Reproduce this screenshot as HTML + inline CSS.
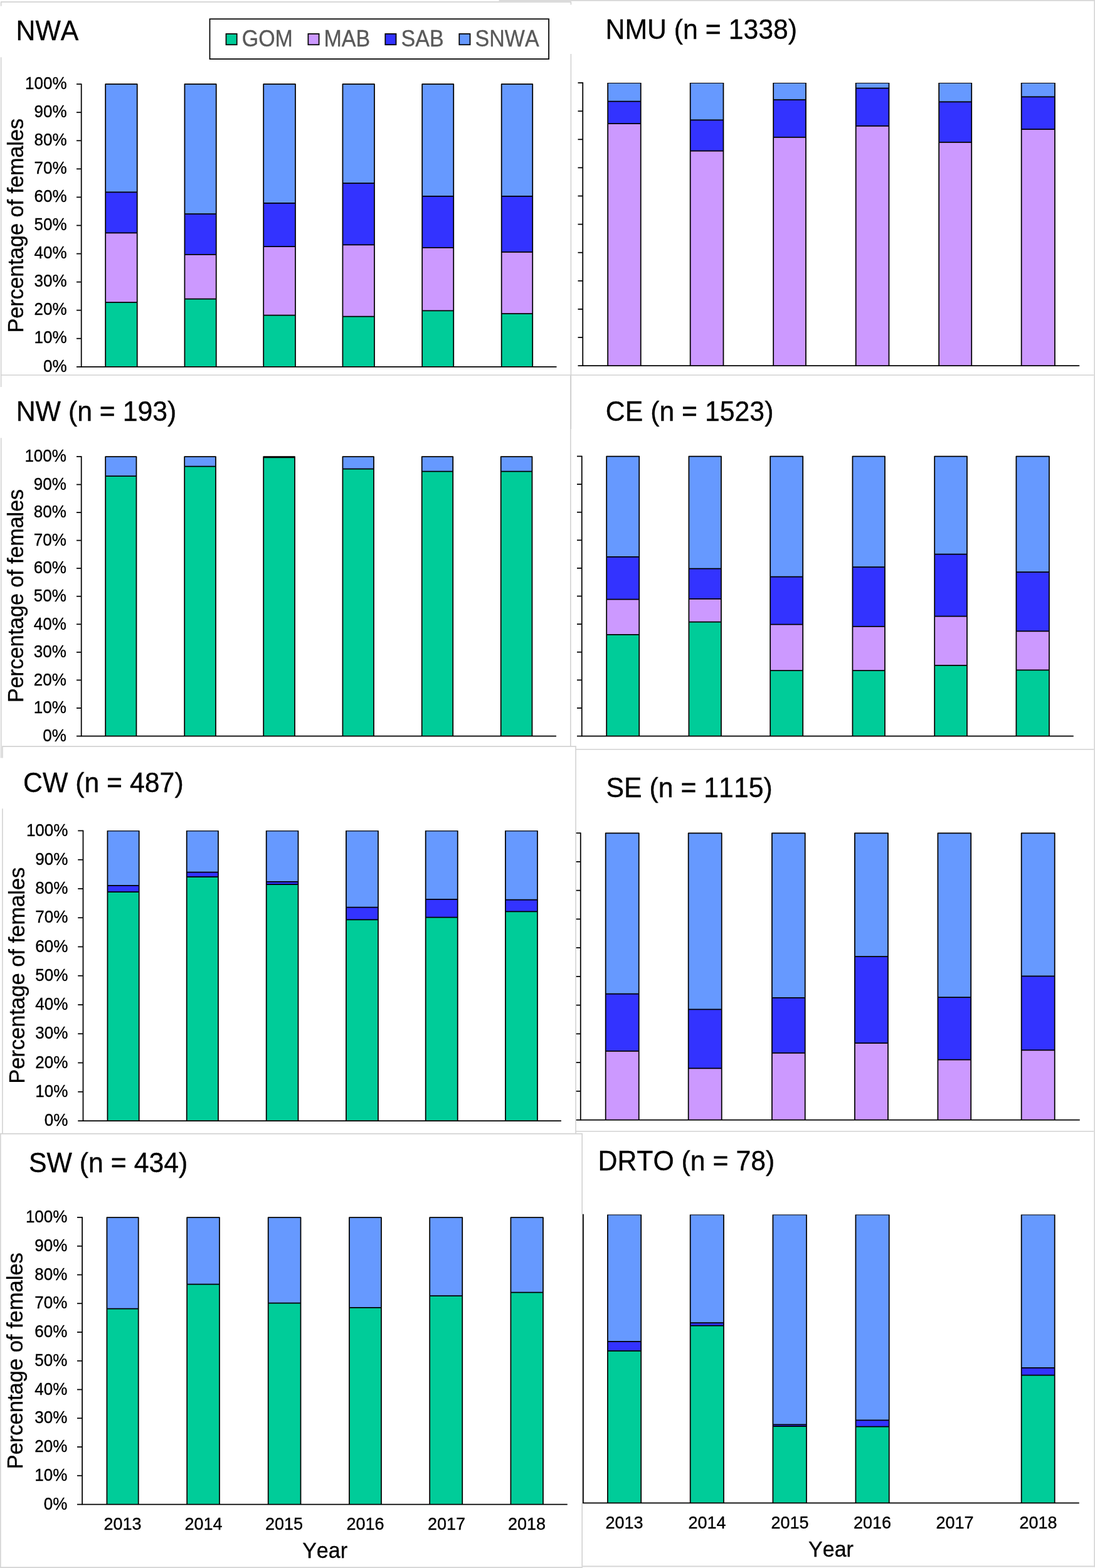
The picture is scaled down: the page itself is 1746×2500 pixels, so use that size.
<!DOCTYPE html>
<html lang="en"><head><meta charset="utf-8"><title>Percentage of females by year and region</title>
<style>html,body{margin:0;padding:0;background:#fff}body{width:1746px;height:2500px;overflow:hidden}svg{display:block}text{font-family:"Liberation Sans",Arial,Helvetica,sans-serif;font-kerning:none;font-variant-ligatures:none;stroke-width:0.35px;stroke-linejoin:round}</style>
</head><body>
<svg width="1746" height="2500" viewBox="0 0 1746 2500">
<rect width="1746" height="2500" fill="#fff"/>
<g fill="none" stroke-linecap="butt">
<line x1="1" y1="3.1" x2="910.9" y2="3.1" stroke="#d2d2d2" stroke-width="1.6"/>
<line x1="1.65" y1="3.1" x2="1.65" y2="9.7" stroke="#d2d2d2" stroke-width="1.6"/>
<line x1="1.65" y1="91.3" x2="1.65" y2="617" stroke="#d2d2d2" stroke-width="1.6"/>
<line x1="1.7" y1="698.3" x2="1.7" y2="1208.5" stroke="#d2d2d2" stroke-width="1.6"/>
<line x1="910.4" y1="3.1" x2="910.4" y2="7.5" stroke="#d2d2d2" stroke-width="1.6"/>
<line x1="910.4" y1="86" x2="910.4" y2="684" stroke="#d2d2d2" stroke-width="1.6"/>
<line x1="909.8" y1="598" x2="909.8" y2="1190" stroke="#d2d2d2" stroke-width="1.6"/>
<line x1="0.9" y1="598" x2="1744.3" y2="598" stroke="#d2d2d2" stroke-width="1.6"/>
<line x1="3.1" y1="1190.1" x2="918.9" y2="1190.1" stroke="#d2d2d2" stroke-width="1.6"/>
<line x1="3.96" y1="1190.1" x2="3.96" y2="1208.5" stroke="#d2d2d2" stroke-width="1.6"/>
<line x1="3.96" y1="1289.2" x2="3.96" y2="1807.6" stroke="#d2d2d2" stroke-width="1.6"/>
<line x1="918.05" y1="1190.1" x2="918.05" y2="1807.6" stroke="#d2d2d2" stroke-width="1.6"/>
<line x1="918.05" y1="1194.8" x2="1744.3" y2="1194.8" stroke="#d2d2d2" stroke-width="1.6"/>
<line x1="918.05" y1="1803.7" x2="1744.3" y2="1803.7" stroke="#d2d2d2" stroke-width="1.6"/>
<line x1="0" y1="1807.6" x2="929" y2="1807.6" stroke="#d2d2d2" stroke-width="1.6"/>
<line x1="928.2" y1="1807.6" x2="928.2" y2="2498.2" stroke="#d2d2d2" stroke-width="1.6"/>
<rect x="795.5" y="0" width="950.5" height="1.75" fill="#d6d6d6"/>
<rect x="1744.3" y="0" width="1.7" height="2498.4" fill="#d6d6d6"/>
<rect x="928.2" y="2496.4" width="817.8" height="2" fill="#d6d6d6"/>
<rect x="0" y="2498.1" width="929" height="1.9" fill="#d6d6d6"/>
<rect x="0" y="1807.6" width="1.75" height="692.4" fill="#d6d6d6"/>
</g>
<g>
<rect x="334.5" y="30.3" width="540.6" height="63.8" fill="#fff" stroke="#000" stroke-width="1.75"/>
<rect x="360.5" y="54" width="17.2" height="17.3" fill="#00CC99" stroke="#000" stroke-width="1.75"/>
<text transform="translate(385.7,73.7) scale(1,1.085)" font-size="34" text-anchor="start" fill="#595959" stroke="#595959">GOM</text>
<rect x="491.4" y="54" width="17.2" height="17.3" fill="#CC99FF" stroke="#000" stroke-width="1.75"/>
<text transform="translate(516.5,73.7) scale(1,1.085)" font-size="34" text-anchor="start" fill="#595959" stroke="#595959">MAB</text>
<rect x="614.3" y="54" width="17.2" height="17.3" fill="#3333FF" stroke="#000" stroke-width="1.75"/>
<text transform="translate(639.6,73.7) scale(1,1.085)" font-size="34" text-anchor="start" fill="#595959" stroke="#595959">SAB</text>
<rect x="732.3" y="54" width="17.2" height="17.3" fill="#6699FF" stroke="#000" stroke-width="1.75"/>
<text transform="translate(757.6,73.7) scale(1,1.085)" font-size="34" text-anchor="start" fill="#595959" stroke="#595959">SNWA</text>
</g>
<g id="panel-NWA">
<g stroke="#000" stroke-width="1.75" stroke-linejoin="round">
<rect x="168.18" y="482" width="50.55" height="102.8" fill="#00CC99" stroke="none"/>
<rect x="168.18" y="371.25" width="50.55" height="110.75" fill="#CC99FF" stroke="none"/>
<rect x="168.18" y="306.25" width="50.55" height="65" fill="#3333FF" stroke="none"/>
<rect x="168.18" y="134.15" width="50.55" height="172.1" fill="#6699FF" stroke="none"/>
<path d="M168.18 584.8V134.15H218.72V584.8M168.18 482H218.72M168.18 371.25H218.72M168.18 306.25H218.72" fill="none"/>
<rect x="294.43" y="476.5" width="50.3" height="108.3" fill="#00CC99" stroke="none"/>
<rect x="294.43" y="405.75" width="50.3" height="70.75" fill="#CC99FF" stroke="none"/>
<rect x="294.43" y="341" width="50.3" height="64.75" fill="#3333FF" stroke="none"/>
<rect x="294.43" y="134.15" width="50.3" height="206.85" fill="#6699FF" stroke="none"/>
<path d="M294.43 584.8V134.15H344.73V584.8M294.43 476.5H344.73M294.43 405.75H344.73M294.43 341H344.73" fill="none"/>
<rect x="420.18" y="502.5" width="50.8" height="82.3" fill="#00CC99" stroke="none"/>
<rect x="420.18" y="393" width="50.8" height="109.5" fill="#CC99FF" stroke="none"/>
<rect x="420.18" y="323.75" width="50.8" height="69.25" fill="#3333FF" stroke="none"/>
<rect x="420.18" y="134.15" width="50.8" height="189.6" fill="#6699FF" stroke="none"/>
<path d="M420.18 584.8V134.15H470.98V584.8M420.18 502.5H470.98M420.18 393H470.98M420.18 323.75H470.98" fill="none"/>
<rect x="546.42" y="504.5" width="50.55" height="80.3" fill="#00CC99" stroke="none"/>
<rect x="546.42" y="390.25" width="50.55" height="114.25" fill="#CC99FF" stroke="none"/>
<rect x="546.42" y="292" width="50.55" height="98.25" fill="#3333FF" stroke="none"/>
<rect x="546.42" y="134.15" width="50.55" height="157.85" fill="#6699FF" stroke="none"/>
<path d="M546.42 584.8V134.15H596.98V584.8M546.42 504.5H596.98M546.42 390.25H596.98M546.42 292H596.98" fill="none"/>
<rect x="673.17" y="495.25" width="50.05" height="89.55" fill="#00CC99" stroke="none"/>
<rect x="673.17" y="394.75" width="50.05" height="100.5" fill="#CC99FF" stroke="none"/>
<rect x="673.17" y="312.75" width="50.05" height="82" fill="#3333FF" stroke="none"/>
<rect x="673.17" y="134.15" width="50.05" height="178.6" fill="#6699FF" stroke="none"/>
<path d="M673.17 584.8V134.15H723.23V584.8M673.17 495.25H723.23M673.17 394.75H723.23M673.17 312.75H723.23" fill="none"/>
<rect x="799.67" y="500" width="49.55" height="84.8" fill="#00CC99" stroke="none"/>
<rect x="799.67" y="401.75" width="49.55" height="98.25" fill="#CC99FF" stroke="none"/>
<rect x="799.67" y="312.75" width="49.55" height="89" fill="#3333FF" stroke="none"/>
<rect x="799.67" y="134.15" width="49.55" height="178.6" fill="#6699FF" stroke="none"/>
<path d="M799.67 584.8V134.15H849.23V584.8M799.67 500H849.23M799.67 401.75H849.23M799.67 312.75H849.23" fill="none"/>
</g>
<line x1="129.7" y1="133.4" x2="129.7" y2="585.55" stroke="#000" stroke-width="1.75"/>
<line x1="122" y1="584.8" x2="887.5" y2="584.8" stroke="#000" stroke-width="1.75"/>
<line x1="122" y1="539.73" x2="129.7" y2="539.73" stroke="#000" stroke-width="1.75"/>
<line x1="122" y1="494.67" x2="129.7" y2="494.67" stroke="#000" stroke-width="1.75"/>
<line x1="122" y1="449.6" x2="129.7" y2="449.6" stroke="#000" stroke-width="1.75"/>
<line x1="122" y1="404.54" x2="129.7" y2="404.54" stroke="#000" stroke-width="1.75"/>
<line x1="122" y1="359.47" x2="129.7" y2="359.47" stroke="#000" stroke-width="1.75"/>
<line x1="122" y1="314.41" x2="129.7" y2="314.41" stroke="#000" stroke-width="1.75"/>
<line x1="122" y1="269.34" x2="129.7" y2="269.34" stroke="#000" stroke-width="1.75"/>
<line x1="122" y1="224.28" x2="129.7" y2="224.28" stroke="#000" stroke-width="1.75"/>
<line x1="122" y1="179.21" x2="129.7" y2="179.21" stroke="#000" stroke-width="1.75"/>
<line x1="122" y1="134.15" x2="129.7" y2="134.15" stroke="#000" stroke-width="1.75"/>
<text transform="translate(106.6,592.5) scale(1,1.04)" font-size="26" text-anchor="end" fill="#000" stroke="#000">0%</text>
<text transform="translate(106.6,547.43) scale(1,1.04)" font-size="26" text-anchor="end" fill="#000" stroke="#000">10%</text>
<text transform="translate(106.6,502.37) scale(1,1.04)" font-size="26" text-anchor="end" fill="#000" stroke="#000">20%</text>
<text transform="translate(106.6,457.3) scale(1,1.04)" font-size="26" text-anchor="end" fill="#000" stroke="#000">30%</text>
<text transform="translate(106.6,412.24) scale(1,1.04)" font-size="26" text-anchor="end" fill="#000" stroke="#000">40%</text>
<text transform="translate(106.6,367.17) scale(1,1.04)" font-size="26" text-anchor="end" fill="#000" stroke="#000">50%</text>
<text transform="translate(106.6,322.11) scale(1,1.04)" font-size="26" text-anchor="end" fill="#000" stroke="#000">60%</text>
<text transform="translate(106.6,277.04) scale(1,1.04)" font-size="26" text-anchor="end" fill="#000" stroke="#000">70%</text>
<text transform="translate(106.6,231.98) scale(1,1.04)" font-size="26" text-anchor="end" fill="#000" stroke="#000">80%</text>
<text transform="translate(106.6,186.91) scale(1,1.04)" font-size="26" text-anchor="end" fill="#000" stroke="#000">90%</text>
<text transform="translate(106.6,141.85) scale(1,1.04)" font-size="26" text-anchor="end" fill="#000" stroke="#000">100%</text>
<text transform="translate(37,359.8) rotate(-90) scale(1,1.03)" font-size="34.15" text-anchor="middle" fill="#000" stroke="#000">Percentage of females</text>
<text transform="translate(25.5,63.6) scale(1,1.03)" font-size="42.8" text-anchor="start" fill="#000" stroke="#000">NWA</text>
</g>
<g id="panel-NMU">
<clipPath id="clip-NMU"><rect x="919.25" y="131.95" width="811.95" height="456"/></clipPath>
<g stroke="#000" stroke-width="1.75" stroke-linejoin="round" clip-path="url(#clip-NMU)">
<rect x="969.17" y="197" width="52.55" height="386.1" fill="#CC99FF" stroke="none"/>
<rect x="969.17" y="161.5" width="52.55" height="35.5" fill="#3333FF" stroke="none"/>
<rect x="969.17" y="132.1" width="52.55" height="29.4" fill="#6699FF" stroke="none"/>
<path d="M969.17 583.1V132.1H1021.73V583.1M969.17 197H1021.73M969.17 161.5H1021.73" fill="none"/>
<rect x="1100.67" y="240.5" width="52.8" height="342.6" fill="#CC99FF" stroke="none"/>
<rect x="1100.67" y="191.25" width="52.8" height="49.25" fill="#3333FF" stroke="none"/>
<rect x="1100.67" y="132.1" width="52.8" height="59.15" fill="#6699FF" stroke="none"/>
<path d="M1100.67 583.1V132.1H1153.47V583.1M1100.67 240.5H1153.47M1100.67 191.25H1153.47" fill="none"/>
<rect x="1233.17" y="218.75" width="51.8" height="364.35" fill="#CC99FF" stroke="none"/>
<rect x="1233.17" y="159" width="51.8" height="59.75" fill="#3333FF" stroke="none"/>
<rect x="1233.17" y="132.1" width="51.8" height="26.9" fill="#6699FF" stroke="none"/>
<path d="M1233.17 583.1V132.1H1284.97V583.1M1233.17 218.75H1284.97M1233.17 159H1284.97" fill="none"/>
<rect x="1364.67" y="200.75" width="52.8" height="382.35" fill="#CC99FF" stroke="none"/>
<rect x="1364.67" y="140.5" width="52.8" height="60.25" fill="#3333FF" stroke="none"/>
<rect x="1364.67" y="132.1" width="52.8" height="8.4" fill="#6699FF" stroke="none"/>
<path d="M1364.67 583.1V132.1H1417.47V583.1M1364.67 200.75H1417.47M1364.67 140.5H1417.47" fill="none"/>
<rect x="1497.17" y="226.75" width="52.05" height="356.35" fill="#CC99FF" stroke="none"/>
<rect x="1497.17" y="162.25" width="52.05" height="64.5" fill="#3333FF" stroke="none"/>
<rect x="1497.17" y="132.1" width="52.05" height="30.15" fill="#6699FF" stroke="none"/>
<path d="M1497.17 583.1V132.1H1549.22V583.1M1497.17 226.75H1549.22M1497.17 162.25H1549.22" fill="none"/>
<rect x="1628.67" y="206" width="53.3" height="377.1" fill="#CC99FF" stroke="none"/>
<rect x="1628.67" y="154.25" width="53.3" height="51.75" fill="#3333FF" stroke="none"/>
<rect x="1628.67" y="132.1" width="53.3" height="22.15" fill="#6699FF" stroke="none"/>
<path d="M1628.67 583.1V132.1H1681.97V583.1M1628.67 206H1681.97M1628.67 154.25H1681.97" fill="none"/>
</g>
<line x1="929.25" y1="131.35" x2="929.25" y2="583.85" stroke="#000" stroke-width="1.75"/>
<line x1="921.5" y1="583.1" x2="1721.2" y2="583.1" stroke="#000" stroke-width="1.75"/>
<line x1="921.5" y1="538" x2="929.25" y2="538" stroke="#000" stroke-width="1.75"/>
<line x1="921.5" y1="492.9" x2="929.25" y2="492.9" stroke="#000" stroke-width="1.75"/>
<line x1="921.5" y1="447.8" x2="929.25" y2="447.8" stroke="#000" stroke-width="1.75"/>
<line x1="921.5" y1="402.7" x2="929.25" y2="402.7" stroke="#000" stroke-width="1.75"/>
<line x1="921.5" y1="357.6" x2="929.25" y2="357.6" stroke="#000" stroke-width="1.75"/>
<line x1="921.5" y1="312.5" x2="929.25" y2="312.5" stroke="#000" stroke-width="1.75"/>
<line x1="921.5" y1="267.4" x2="929.25" y2="267.4" stroke="#000" stroke-width="1.75"/>
<line x1="921.5" y1="222.3" x2="929.25" y2="222.3" stroke="#000" stroke-width="1.75"/>
<line x1="921.5" y1="177.2" x2="929.25" y2="177.2" stroke="#000" stroke-width="1.75"/>
<line x1="921.5" y1="132.1" x2="929.25" y2="132.1" stroke="#000" stroke-width="1.75"/>
<text transform="translate(965.5,62) scale(1,1.03)" font-size="42.8" text-anchor="start" fill="#000" stroke="#000">NMU (n = 1338)</text>
</g>
<g id="panel-NW">
<g stroke="#000" stroke-width="1.75" stroke-linejoin="round">
<rect x="168.18" y="759" width="49.3" height="414.5" fill="#00CC99" stroke="none"/>
<rect x="168.18" y="728" width="49.3" height="31" fill="#6699FF" stroke="none"/>
<path d="M168.18 1173.5V728H217.47V1173.5M168.18 759H217.47" fill="none"/>
<rect x="294.18" y="743.5" width="49.8" height="430" fill="#00CC99" stroke="none"/>
<rect x="294.18" y="728" width="49.8" height="15.5" fill="#6699FF" stroke="none"/>
<path d="M294.18 1173.5V728H343.98V1173.5M294.18 743.5H343.98" fill="none"/>
<rect x="420.18" y="729.25" width="49.8" height="444.25" fill="#00CC99" stroke="none"/>
<rect x="420.18" y="728" width="49.8" height="1.25" fill="#6699FF" stroke="none"/>
<path d="M420.18 1173.5V728H469.98V1173.5M420.18 729.25H469.98" fill="none"/>
<rect x="546.42" y="747.5" width="49.55" height="426" fill="#00CC99" stroke="none"/>
<rect x="546.42" y="728" width="49.55" height="19.5" fill="#6699FF" stroke="none"/>
<path d="M546.42 1173.5V728H595.98V1173.5M546.42 747.5H595.98" fill="none"/>
<rect x="672.67" y="751.5" width="49.55" height="422" fill="#00CC99" stroke="none"/>
<rect x="672.67" y="728" width="49.55" height="23.5" fill="#6699FF" stroke="none"/>
<path d="M672.67 1173.5V728H722.23V1173.5M672.67 751.5H722.23" fill="none"/>
<rect x="798.67" y="751.5" width="49.8" height="422" fill="#00CC99" stroke="none"/>
<rect x="798.67" y="728" width="49.8" height="23.5" fill="#6699FF" stroke="none"/>
<path d="M798.67 1173.5V728H848.48V1173.5M798.67 751.5H848.48" fill="none"/>
</g>
<line x1="129.7" y1="727.25" x2="129.7" y2="1174.25" stroke="#000" stroke-width="1.75"/>
<line x1="122" y1="1173.5" x2="887" y2="1173.5" stroke="#000" stroke-width="1.75"/>
<line x1="122" y1="1128.95" x2="129.7" y2="1128.95" stroke="#000" stroke-width="1.75"/>
<line x1="122" y1="1084.4" x2="129.7" y2="1084.4" stroke="#000" stroke-width="1.75"/>
<line x1="122" y1="1039.85" x2="129.7" y2="1039.85" stroke="#000" stroke-width="1.75"/>
<line x1="122" y1="995.3" x2="129.7" y2="995.3" stroke="#000" stroke-width="1.75"/>
<line x1="122" y1="950.75" x2="129.7" y2="950.75" stroke="#000" stroke-width="1.75"/>
<line x1="122" y1="906.2" x2="129.7" y2="906.2" stroke="#000" stroke-width="1.75"/>
<line x1="122" y1="861.65" x2="129.7" y2="861.65" stroke="#000" stroke-width="1.75"/>
<line x1="122" y1="817.1" x2="129.7" y2="817.1" stroke="#000" stroke-width="1.75"/>
<line x1="122" y1="772.55" x2="129.7" y2="772.55" stroke="#000" stroke-width="1.75"/>
<line x1="122" y1="728" x2="129.7" y2="728" stroke="#000" stroke-width="1.75"/>
<text transform="translate(105.9,1181.7) scale(1,1.04)" font-size="26" text-anchor="end" fill="#000" stroke="#000">0%</text>
<text transform="translate(105.9,1137.15) scale(1,1.04)" font-size="26" text-anchor="end" fill="#000" stroke="#000">10%</text>
<text transform="translate(105.9,1092.6) scale(1,1.04)" font-size="26" text-anchor="end" fill="#000" stroke="#000">20%</text>
<text transform="translate(105.9,1048.05) scale(1,1.04)" font-size="26" text-anchor="end" fill="#000" stroke="#000">30%</text>
<text transform="translate(105.9,1003.5) scale(1,1.04)" font-size="26" text-anchor="end" fill="#000" stroke="#000">40%</text>
<text transform="translate(105.9,958.95) scale(1,1.04)" font-size="26" text-anchor="end" fill="#000" stroke="#000">50%</text>
<text transform="translate(105.9,914.4) scale(1,1.04)" font-size="26" text-anchor="end" fill="#000" stroke="#000">60%</text>
<text transform="translate(105.9,869.85) scale(1,1.04)" font-size="26" text-anchor="end" fill="#000" stroke="#000">70%</text>
<text transform="translate(105.9,825.3) scale(1,1.04)" font-size="26" text-anchor="end" fill="#000" stroke="#000">80%</text>
<text transform="translate(105.9,780.75) scale(1,1.04)" font-size="26" text-anchor="end" fill="#000" stroke="#000">90%</text>
<text transform="translate(105.9,736.2) scale(1,1.04)" font-size="26" text-anchor="end" fill="#000" stroke="#000">100%</text>
<text transform="translate(37,950) rotate(-90) scale(1,1.03)" font-size="34" text-anchor="middle" fill="#000" stroke="#000">Percentage of females</text>
<text transform="translate(25.7,670.75) scale(1,1.03)" font-size="42.8" text-anchor="start" fill="#000" stroke="#000">NW (n = 193)</text>
</g>
<g id="panel-CE">
<g stroke="#000" stroke-width="1.75" stroke-linejoin="round">
<rect x="967.17" y="1011.75" width="52.05" height="161.75" fill="#00CC99" stroke="none"/>
<rect x="967.17" y="955.5" width="52.05" height="56.25" fill="#CC99FF" stroke="none"/>
<rect x="967.17" y="887.75" width="52.05" height="67.75" fill="#3333FF" stroke="none"/>
<rect x="967.17" y="727.5" width="52.05" height="160.25" fill="#6699FF" stroke="none"/>
<path d="M967.17 1173.5V727.5H1019.23V1173.5M967.17 1011.75H1019.23M967.17 955.5H1019.23M967.17 887.75H1019.23" fill="none"/>
<rect x="1098.42" y="991.5" width="51.55" height="182" fill="#00CC99" stroke="none"/>
<rect x="1098.42" y="954.75" width="51.55" height="36.75" fill="#CC99FF" stroke="none"/>
<rect x="1098.42" y="906.5" width="51.55" height="48.25" fill="#3333FF" stroke="none"/>
<rect x="1098.42" y="727.5" width="51.55" height="179" fill="#6699FF" stroke="none"/>
<path d="M1098.42 1173.5V727.5H1149.97V1173.5M1098.42 991.5H1149.97M1098.42 954.75H1149.97M1098.42 906.5H1149.97" fill="none"/>
<rect x="1228.17" y="1069" width="52.05" height="104.5" fill="#00CC99" stroke="none"/>
<rect x="1228.17" y="995.5" width="52.05" height="73.5" fill="#CC99FF" stroke="none"/>
<rect x="1228.17" y="919.5" width="52.05" height="76" fill="#3333FF" stroke="none"/>
<rect x="1228.17" y="727.5" width="52.05" height="192" fill="#6699FF" stroke="none"/>
<path d="M1228.17 1173.5V727.5H1280.22V1173.5M1228.17 1069H1280.22M1228.17 995.5H1280.22M1228.17 919.5H1280.22" fill="none"/>
<rect x="1359.42" y="1069" width="51.55" height="104.5" fill="#00CC99" stroke="none"/>
<rect x="1359.42" y="998.75" width="51.55" height="70.25" fill="#CC99FF" stroke="none"/>
<rect x="1359.42" y="904" width="51.55" height="94.75" fill="#3333FF" stroke="none"/>
<rect x="1359.42" y="727.5" width="51.55" height="176.5" fill="#6699FF" stroke="none"/>
<path d="M1359.42 1173.5V727.5H1410.97V1173.5M1359.42 1069H1410.97M1359.42 998.75H1410.97M1359.42 904H1410.97" fill="none"/>
<rect x="1490.17" y="1060.75" width="51.8" height="112.75" fill="#00CC99" stroke="none"/>
<rect x="1490.17" y="982.5" width="51.8" height="78.25" fill="#CC99FF" stroke="none"/>
<rect x="1490.17" y="883.5" width="51.8" height="99" fill="#3333FF" stroke="none"/>
<rect x="1490.17" y="727.5" width="51.8" height="156" fill="#6699FF" stroke="none"/>
<path d="M1490.17 1173.5V727.5H1541.97V1173.5M1490.17 1060.75H1541.97M1490.17 982.5H1541.97M1490.17 883.5H1541.97" fill="none"/>
<rect x="1620.42" y="1068.25" width="52.55" height="105.25" fill="#00CC99" stroke="none"/>
<rect x="1620.42" y="1006.25" width="52.55" height="62" fill="#CC99FF" stroke="none"/>
<rect x="1620.42" y="912" width="52.55" height="94.25" fill="#3333FF" stroke="none"/>
<rect x="1620.42" y="727.5" width="52.55" height="184.5" fill="#6699FF" stroke="none"/>
<path d="M1620.42 1173.5V727.5H1672.97V1173.5M1620.42 1068.25H1672.97M1620.42 1006.25H1672.97M1620.42 912H1672.97" fill="none"/>
</g>
<line x1="927.75" y1="726.75" x2="927.75" y2="1174.25" stroke="#000" stroke-width="1.75"/>
<line x1="920" y1="1173.5" x2="1711.75" y2="1173.5" stroke="#000" stroke-width="1.75"/>
<line x1="920" y1="1128.9" x2="927.75" y2="1128.9" stroke="#000" stroke-width="1.75"/>
<line x1="920" y1="1084.3" x2="927.75" y2="1084.3" stroke="#000" stroke-width="1.75"/>
<line x1="920" y1="1039.7" x2="927.75" y2="1039.7" stroke="#000" stroke-width="1.75"/>
<line x1="920" y1="995.1" x2="927.75" y2="995.1" stroke="#000" stroke-width="1.75"/>
<line x1="920" y1="950.5" x2="927.75" y2="950.5" stroke="#000" stroke-width="1.75"/>
<line x1="920" y1="905.9" x2="927.75" y2="905.9" stroke="#000" stroke-width="1.75"/>
<line x1="920" y1="861.3" x2="927.75" y2="861.3" stroke="#000" stroke-width="1.75"/>
<line x1="920" y1="816.7" x2="927.75" y2="816.7" stroke="#000" stroke-width="1.75"/>
<line x1="920" y1="772.1" x2="927.75" y2="772.1" stroke="#000" stroke-width="1.75"/>
<line x1="920" y1="727.5" x2="927.75" y2="727.5" stroke="#000" stroke-width="1.75"/>
<text transform="translate(965.8,670.75) scale(1,1.03)" font-size="42.8" text-anchor="start" fill="#000" stroke="#000">CE (n = 1523)</text>
</g>
<g id="panel-CW">
<clipPath id="clip-CW"><rect x="122.5" y="1324.35" width="782.4" height="467.5"/></clipPath>
<g stroke="#000" stroke-width="1.75" stroke-linejoin="round" clip-path="url(#clip-CW)">
<rect x="171.43" y="1422" width="50.3" height="365" fill="#00CC99" stroke="none"/>
<rect x="171.43" y="1411.75" width="50.3" height="10.25" fill="#3333FF" stroke="none"/>
<rect x="171.43" y="1324.5" width="50.3" height="87.25" fill="#6699FF" stroke="none"/>
<path d="M171.43 1787V1324.5H221.72V1787M171.43 1422H221.72M171.43 1411.75H221.72" fill="none"/>
<rect x="297.68" y="1398" width="50.3" height="389" fill="#00CC99" stroke="none"/>
<rect x="297.68" y="1390.5" width="50.3" height="7.5" fill="#3333FF" stroke="none"/>
<rect x="297.68" y="1324.5" width="50.3" height="66" fill="#6699FF" stroke="none"/>
<path d="M297.68 1787V1324.5H347.98V1787M297.68 1398H347.98M297.68 1390.5H347.98" fill="none"/>
<rect x="424.68" y="1410" width="50.8" height="377" fill="#00CC99" stroke="none"/>
<rect x="424.68" y="1405.75" width="50.8" height="4.25" fill="#3333FF" stroke="none"/>
<rect x="424.68" y="1324.5" width="50.8" height="81.25" fill="#6699FF" stroke="none"/>
<path d="M424.68 1787V1324.5H475.48V1787M424.68 1410H475.48M424.68 1405.75H475.48" fill="none"/>
<rect x="551.92" y="1466.25" width="51.05" height="320.75" fill="#00CC99" stroke="none"/>
<rect x="551.92" y="1446.5" width="51.05" height="19.75" fill="#3333FF" stroke="none"/>
<rect x="551.92" y="1324.5" width="51.05" height="122" fill="#6699FF" stroke="none"/>
<path d="M551.92 1787V1324.5H602.98V1787M551.92 1466.25H602.98M551.92 1446.5H602.98" fill="none"/>
<rect x="678.67" y="1462.5" width="51.05" height="324.5" fill="#00CC99" stroke="none"/>
<rect x="678.67" y="1433.75" width="51.05" height="28.75" fill="#3333FF" stroke="none"/>
<rect x="678.67" y="1324.5" width="51.05" height="109.25" fill="#6699FF" stroke="none"/>
<path d="M678.67 1787V1324.5H729.73V1787M678.67 1462.5H729.73M678.67 1433.75H729.73" fill="none"/>
<rect x="805.92" y="1453.25" width="51.05" height="333.75" fill="#00CC99" stroke="none"/>
<rect x="805.92" y="1434.5" width="51.05" height="18.75" fill="#3333FF" stroke="none"/>
<rect x="805.92" y="1324.5" width="51.05" height="110" fill="#6699FF" stroke="none"/>
<path d="M805.92 1787V1324.5H856.98V1787M805.92 1453.25H856.98M805.92 1434.5H856.98" fill="none"/>
</g>
<line x1="132.5" y1="1323.75" x2="132.5" y2="1787.75" stroke="#000" stroke-width="1.75"/>
<line x1="124.25" y1="1787" x2="894.9" y2="1787" stroke="#000" stroke-width="1.75"/>
<line x1="124.25" y1="1740.75" x2="132.5" y2="1740.75" stroke="#000" stroke-width="1.75"/>
<line x1="124.25" y1="1694.5" x2="132.5" y2="1694.5" stroke="#000" stroke-width="1.75"/>
<line x1="124.25" y1="1648.25" x2="132.5" y2="1648.25" stroke="#000" stroke-width="1.75"/>
<line x1="124.25" y1="1602" x2="132.5" y2="1602" stroke="#000" stroke-width="1.75"/>
<line x1="124.25" y1="1555.75" x2="132.5" y2="1555.75" stroke="#000" stroke-width="1.75"/>
<line x1="124.25" y1="1509.5" x2="132.5" y2="1509.5" stroke="#000" stroke-width="1.75"/>
<line x1="124.25" y1="1463.25" x2="132.5" y2="1463.25" stroke="#000" stroke-width="1.75"/>
<line x1="124.25" y1="1417" x2="132.5" y2="1417" stroke="#000" stroke-width="1.75"/>
<line x1="124.25" y1="1370.75" x2="132.5" y2="1370.75" stroke="#000" stroke-width="1.75"/>
<line x1="124.25" y1="1324.5" x2="132.5" y2="1324.5" stroke="#000" stroke-width="1.75"/>
<text transform="translate(108.4,1795) scale(1,1.04)" font-size="26" text-anchor="end" fill="#000" stroke="#000">0%</text>
<text transform="translate(108.4,1748.75) scale(1,1.04)" font-size="26" text-anchor="end" fill="#000" stroke="#000">10%</text>
<text transform="translate(108.4,1702.5) scale(1,1.04)" font-size="26" text-anchor="end" fill="#000" stroke="#000">20%</text>
<text transform="translate(108.4,1656.25) scale(1,1.04)" font-size="26" text-anchor="end" fill="#000" stroke="#000">30%</text>
<text transform="translate(108.4,1610) scale(1,1.04)" font-size="26" text-anchor="end" fill="#000" stroke="#000">40%</text>
<text transform="translate(108.4,1563.75) scale(1,1.04)" font-size="26" text-anchor="end" fill="#000" stroke="#000">50%</text>
<text transform="translate(108.4,1517.5) scale(1,1.04)" font-size="26" text-anchor="end" fill="#000" stroke="#000">60%</text>
<text transform="translate(108.4,1471.25) scale(1,1.04)" font-size="26" text-anchor="end" fill="#000" stroke="#000">70%</text>
<text transform="translate(108.4,1425) scale(1,1.04)" font-size="26" text-anchor="end" fill="#000" stroke="#000">80%</text>
<text transform="translate(108.4,1378.75) scale(1,1.04)" font-size="26" text-anchor="end" fill="#000" stroke="#000">90%</text>
<text transform="translate(108.4,1332.5) scale(1,1.04)" font-size="26" text-anchor="end" fill="#000" stroke="#000">100%</text>
<text transform="translate(38.9,1555.25) rotate(-90) scale(1,1.03)" font-size="34.5" text-anchor="middle" fill="#000" stroke="#000">Percentage of females</text>
<text transform="translate(37,1262.5) scale(1,1.03)" font-size="42.8" text-anchor="start" fill="#000" stroke="#000">CW (n = 487)</text>
</g>
<g id="panel-SE">
<g stroke="#000" stroke-width="1.75" stroke-linejoin="round">
<rect x="965.67" y="1675.75" width="53.05" height="109.75" fill="#CC99FF" stroke="none"/>
<rect x="965.67" y="1584.5" width="53.05" height="91.25" fill="#3333FF" stroke="none"/>
<rect x="965.67" y="1328.25" width="53.05" height="256.25" fill="#6699FF" stroke="none"/>
<path d="M965.67 1785.5V1328.25H1018.73V1785.5M965.67 1675.75H1018.73M965.67 1584.5H1018.73" fill="none"/>
<rect x="1097.67" y="1703.25" width="53.05" height="82.25" fill="#CC99FF" stroke="none"/>
<rect x="1097.67" y="1609.25" width="53.05" height="94" fill="#3333FF" stroke="none"/>
<rect x="1097.67" y="1328.25" width="53.05" height="281" fill="#6699FF" stroke="none"/>
<path d="M1097.67 1785.5V1328.25H1150.72V1785.5M1097.67 1703.25H1150.72M1097.67 1609.25H1150.72" fill="none"/>
<rect x="1230.92" y="1678.75" width="52.8" height="106.75" fill="#CC99FF" stroke="none"/>
<rect x="1230.92" y="1590.75" width="52.8" height="88" fill="#3333FF" stroke="none"/>
<rect x="1230.92" y="1328.25" width="52.8" height="262.5" fill="#6699FF" stroke="none"/>
<path d="M1230.92 1785.5V1328.25H1283.72V1785.5M1230.92 1678.75H1283.72M1230.92 1590.75H1283.72" fill="none"/>
<rect x="1362.92" y="1663" width="53.05" height="122.5" fill="#CC99FF" stroke="none"/>
<rect x="1362.92" y="1525" width="53.05" height="138" fill="#3333FF" stroke="none"/>
<rect x="1362.92" y="1328.25" width="53.05" height="196.75" fill="#6699FF" stroke="none"/>
<path d="M1362.92 1785.5V1328.25H1415.97V1785.5M1362.92 1663H1415.97M1362.92 1525H1415.97" fill="none"/>
<rect x="1495.42" y="1689.5" width="52.8" height="96" fill="#CC99FF" stroke="none"/>
<rect x="1495.42" y="1590" width="52.8" height="99.5" fill="#3333FF" stroke="none"/>
<rect x="1495.42" y="1328.25" width="52.8" height="261.75" fill="#6699FF" stroke="none"/>
<path d="M1495.42 1785.5V1328.25H1548.22V1785.5M1495.42 1689.5H1548.22M1495.42 1590H1548.22" fill="none"/>
<rect x="1628.67" y="1674.25" width="53.05" height="111.25" fill="#CC99FF" stroke="none"/>
<rect x="1628.67" y="1556.25" width="53.05" height="118" fill="#3333FF" stroke="none"/>
<rect x="1628.67" y="1328.25" width="53.05" height="228" fill="#6699FF" stroke="none"/>
<path d="M1628.67 1785.5V1328.25H1681.72V1785.5M1628.67 1674.25H1681.72M1628.67 1556.25H1681.72" fill="none"/>
</g>
<line x1="925.75" y1="1327.5" x2="925.75" y2="1786.25" stroke="#000" stroke-width="1.75"/>
<line x1="918.75" y1="1785.5" x2="1721.75" y2="1785.5" stroke="#000" stroke-width="1.75"/>
<line x1="918.75" y1="1739.78" x2="925.75" y2="1739.78" stroke="#000" stroke-width="1.75"/>
<line x1="918.75" y1="1694.05" x2="925.75" y2="1694.05" stroke="#000" stroke-width="1.75"/>
<line x1="918.75" y1="1648.33" x2="925.75" y2="1648.33" stroke="#000" stroke-width="1.75"/>
<line x1="918.75" y1="1602.6" x2="925.75" y2="1602.6" stroke="#000" stroke-width="1.75"/>
<line x1="918.75" y1="1556.88" x2="925.75" y2="1556.88" stroke="#000" stroke-width="1.75"/>
<line x1="918.75" y1="1511.15" x2="925.75" y2="1511.15" stroke="#000" stroke-width="1.75"/>
<line x1="918.75" y1="1465.42" x2="925.75" y2="1465.42" stroke="#000" stroke-width="1.75"/>
<line x1="918.75" y1="1419.7" x2="925.75" y2="1419.7" stroke="#000" stroke-width="1.75"/>
<line x1="918.75" y1="1373.97" x2="925.75" y2="1373.97" stroke="#000" stroke-width="1.75"/>
<line x1="918.75" y1="1328.25" x2="925.75" y2="1328.25" stroke="#000" stroke-width="1.75"/>
<text transform="translate(966.5,1270.75) scale(1,1.03)" font-size="42.8" text-anchor="start" fill="#000" stroke="#000">SE (n = 1115)</text>
</g>
<g id="panel-SW">
<g stroke="#000" stroke-width="1.75" stroke-linejoin="round">
<rect x="170.43" y="2086.5" width="50.3" height="312" fill="#00CC99" stroke="none"/>
<rect x="170.43" y="1941" width="50.3" height="145.5" fill="#6699FF" stroke="none"/>
<path d="M170.43 2398.5V1941H220.72V2398.5M170.43 2086.5H220.72" fill="none"/>
<rect x="298.18" y="2047.5" width="51.8" height="351" fill="#00CC99" stroke="none"/>
<rect x="298.18" y="1941" width="51.8" height="106.5" fill="#6699FF" stroke="none"/>
<path d="M298.18 2398.5V1941H349.98V2398.5M298.18 2047.5H349.98" fill="none"/>
<rect x="427.68" y="2077.5" width="51.8" height="321" fill="#00CC99" stroke="none"/>
<rect x="427.68" y="1941" width="51.8" height="136.5" fill="#6699FF" stroke="none"/>
<path d="M427.68 2398.5V1941H479.48V2398.5M427.68 2077.5H479.48" fill="none"/>
<rect x="556.92" y="2084.75" width="51.05" height="313.75" fill="#00CC99" stroke="none"/>
<rect x="556.92" y="1941" width="51.05" height="143.75" fill="#6699FF" stroke="none"/>
<path d="M556.92 2398.5V1941H607.98V2398.5M556.92 2084.75H607.98" fill="none"/>
<rect x="685.17" y="2066" width="52.05" height="332.5" fill="#00CC99" stroke="none"/>
<rect x="685.17" y="1941" width="52.05" height="125" fill="#6699FF" stroke="none"/>
<path d="M685.17 2398.5V1941H737.23V2398.5M685.17 2066H737.23" fill="none"/>
<rect x="814.42" y="2060.5" width="51.55" height="338" fill="#00CC99" stroke="none"/>
<rect x="814.42" y="1941" width="51.55" height="119.5" fill="#6699FF" stroke="none"/>
<path d="M814.42 2398.5V1941H865.98V2398.5M814.42 2060.5H865.98" fill="none"/>
</g>
<line x1="131.1" y1="1940.25" x2="131.1" y2="2399.25" stroke="#000" stroke-width="1.75"/>
<line x1="123" y1="2398.5" x2="904.75" y2="2398.5" stroke="#000" stroke-width="1.75"/>
<line x1="123" y1="2352.75" x2="131.1" y2="2352.75" stroke="#000" stroke-width="1.75"/>
<line x1="123" y1="2307" x2="131.1" y2="2307" stroke="#000" stroke-width="1.75"/>
<line x1="123" y1="2261.25" x2="131.1" y2="2261.25" stroke="#000" stroke-width="1.75"/>
<line x1="123" y1="2215.5" x2="131.1" y2="2215.5" stroke="#000" stroke-width="1.75"/>
<line x1="123" y1="2169.75" x2="131.1" y2="2169.75" stroke="#000" stroke-width="1.75"/>
<line x1="123" y1="2124" x2="131.1" y2="2124" stroke="#000" stroke-width="1.75"/>
<line x1="123" y1="2078.25" x2="131.1" y2="2078.25" stroke="#000" stroke-width="1.75"/>
<line x1="123" y1="2032.5" x2="131.1" y2="2032.5" stroke="#000" stroke-width="1.75"/>
<line x1="123" y1="1986.75" x2="131.1" y2="1986.75" stroke="#000" stroke-width="1.75"/>
<line x1="123" y1="1941" x2="131.1" y2="1941" stroke="#000" stroke-width="1.75"/>
<text transform="translate(107.4,2406.7) scale(1,1.04)" font-size="26" text-anchor="end" fill="#000" stroke="#000">0%</text>
<text transform="translate(107.4,2360.95) scale(1,1.04)" font-size="26" text-anchor="end" fill="#000" stroke="#000">10%</text>
<text transform="translate(107.4,2315.2) scale(1,1.04)" font-size="26" text-anchor="end" fill="#000" stroke="#000">20%</text>
<text transform="translate(107.4,2269.45) scale(1,1.04)" font-size="26" text-anchor="end" fill="#000" stroke="#000">30%</text>
<text transform="translate(107.4,2223.7) scale(1,1.04)" font-size="26" text-anchor="end" fill="#000" stroke="#000">40%</text>
<text transform="translate(107.4,2177.95) scale(1,1.04)" font-size="26" text-anchor="end" fill="#000" stroke="#000">50%</text>
<text transform="translate(107.4,2132.2) scale(1,1.04)" font-size="26" text-anchor="end" fill="#000" stroke="#000">60%</text>
<text transform="translate(107.4,2086.45) scale(1,1.04)" font-size="26" text-anchor="end" fill="#000" stroke="#000">70%</text>
<text transform="translate(107.4,2040.7) scale(1,1.04)" font-size="26" text-anchor="end" fill="#000" stroke="#000">80%</text>
<text transform="translate(107.4,1994.95) scale(1,1.04)" font-size="26" text-anchor="end" fill="#000" stroke="#000">90%</text>
<text transform="translate(107.4,1949.2) scale(1,1.04)" font-size="26" text-anchor="end" fill="#000" stroke="#000">100%</text>
<text transform="translate(36.3,2169.75) rotate(-90) scale(1,1.03)" font-size="34.5" text-anchor="middle" fill="#000" stroke="#000">Percentage of females</text>
<text transform="translate(46,1868.75) scale(1,1.03)" font-size="42.8" text-anchor="start" fill="#000" stroke="#000">SW (n = 434)</text>
<text transform="translate(195.6,2439.4) scale(1,1.04)" font-size="27" text-anchor="middle" fill="#000" stroke="#000">2013</text>
<text transform="translate(324.6,2439.4) scale(1,1.04)" font-size="27" text-anchor="middle" fill="#000" stroke="#000">2014</text>
<text transform="translate(453.1,2439.4) scale(1,1.04)" font-size="27" text-anchor="middle" fill="#000" stroke="#000">2015</text>
<text transform="translate(582.6,2439.4) scale(1,1.04)" font-size="27" text-anchor="middle" fill="#000" stroke="#000">2016</text>
<text transform="translate(711.9,2439.4) scale(1,1.04)" font-size="27" text-anchor="middle" fill="#000" stroke="#000">2017</text>
<text transform="translate(840,2439.4) scale(1,1.04)" font-size="27" text-anchor="middle" fill="#000" stroke="#000">2018</text>
<text transform="translate(518.1,2483.5) scale(1,1.04)" font-size="34" text-anchor="middle" fill="#000" stroke="#000">Year</text>
</g>
<g id="panel-DRTO">
<clipPath id="clip-DRTO"><rect x="919.9" y="1936.45" width="810.85" height="464.65"/></clipPath>
<g stroke="#000" stroke-width="1.75" stroke-linejoin="round" clip-path="url(#clip-DRTO)">
<rect x="968.92" y="2153.75" width="53.3" height="242.5" fill="#00CC99" stroke="none"/>
<rect x="968.92" y="2138.75" width="53.3" height="15" fill="#3333FF" stroke="none"/>
<rect x="968.92" y="1936.6" width="53.3" height="202.15" fill="#6699FF" stroke="none"/>
<path d="M968.92 2396.25V1936.6H1022.23V2396.25M968.92 2153.75H1022.23M968.92 2138.75H1022.23" fill="none"/>
<rect x="1100.67" y="2113.5" width="53.3" height="282.75" fill="#00CC99" stroke="none"/>
<rect x="1100.67" y="2109" width="53.3" height="4.5" fill="#3333FF" stroke="none"/>
<rect x="1100.67" y="1936.6" width="53.3" height="172.4" fill="#6699FF" stroke="none"/>
<path d="M1100.67 2396.25V1936.6H1153.97V2396.25M1100.67 2113.5H1153.97M1100.67 2109H1153.97" fill="none"/>
<rect x="1232.42" y="2274.2" width="53.55" height="122.05" fill="#00CC99" stroke="none"/>
<rect x="1232.42" y="2271.4" width="53.55" height="2.8" fill="#3333FF" stroke="none"/>
<rect x="1232.42" y="1936.6" width="53.55" height="334.8" fill="#6699FF" stroke="none"/>
<path d="M1232.42 2396.25V1936.6H1285.97V2396.25M1232.42 2274.2H1285.97M1232.42 2271.4H1285.97" fill="none"/>
<rect x="1364.42" y="2274.5" width="53.3" height="121.75" fill="#00CC99" stroke="none"/>
<rect x="1364.42" y="2264.25" width="53.3" height="10.25" fill="#3333FF" stroke="none"/>
<rect x="1364.42" y="1936.6" width="53.3" height="327.65" fill="#6699FF" stroke="none"/>
<path d="M1364.42 2396.25V1936.6H1417.72V2396.25M1364.42 2274.5H1417.72M1364.42 2264.25H1417.72" fill="none"/>
<rect x="1628.67" y="2192.5" width="53.05" height="203.75" fill="#00CC99" stroke="none"/>
<rect x="1628.67" y="2180.75" width="53.05" height="11.75" fill="#3333FF" stroke="none"/>
<rect x="1628.67" y="1936.6" width="53.05" height="244.15" fill="#6699FF" stroke="none"/>
<path d="M1628.67 2396.25V1936.6H1681.72V2396.25M1628.67 2192.5H1681.72M1628.67 2180.75H1681.72" fill="none"/>
</g>
<line x1="929.9" y1="1935.85" x2="929.9" y2="2397" stroke="#000" stroke-width="1.75"/>
<line x1="929.15" y1="2396.25" x2="1720.75" y2="2396.25" stroke="#000" stroke-width="1.75"/>
<text transform="translate(953.5,1865.5) scale(1,1.03)" font-size="42.8" text-anchor="start" fill="#000" stroke="#000">DRTO (n = 78)</text>
<text transform="translate(995.6,2437.1) scale(1,1.04)" font-size="27" text-anchor="middle" fill="#000" stroke="#000">2013</text>
<text transform="translate(1127.4,2437.1) scale(1,1.04)" font-size="27" text-anchor="middle" fill="#000" stroke="#000">2014</text>
<text transform="translate(1259.4,2437.1) scale(1,1.04)" font-size="27" text-anchor="middle" fill="#000" stroke="#000">2015</text>
<text transform="translate(1391,2437.1) scale(1,1.04)" font-size="27" text-anchor="middle" fill="#000" stroke="#000">2016</text>
<text transform="translate(1522.6,2437.1) scale(1,1.04)" font-size="27" text-anchor="middle" fill="#000" stroke="#000">2017</text>
<text transform="translate(1655.4,2437.1) scale(1,1.04)" font-size="27" text-anchor="middle" fill="#000" stroke="#000">2018</text>
<text transform="translate(1325,2482) scale(1,1.04)" font-size="34" text-anchor="middle" fill="#000" stroke="#000">Year</text>
</g>
</svg>
</body></html>
